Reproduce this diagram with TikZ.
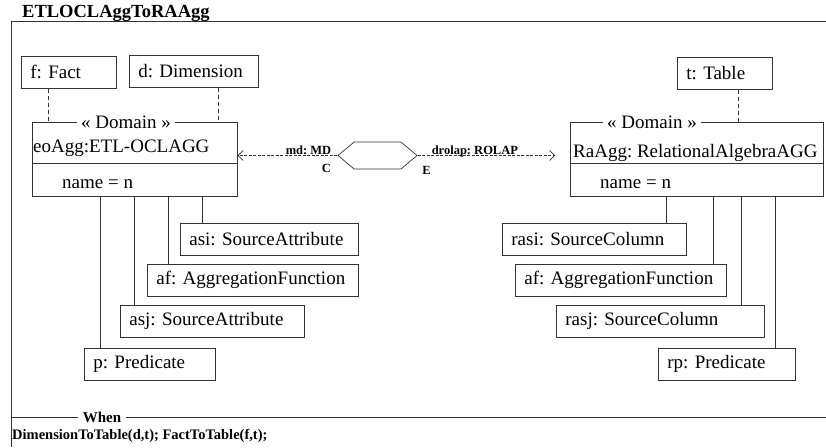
\documentclass[tikz,border=0pt]{standalone}
\usepackage{fontspec}
\setmainfont{Liberation Serif}
\usetikzlibrary{arrows.meta,shapes.symbols}
\frenchspacing

\begin{document}
\begin{tikzpicture}[x=1pt, y=-1pt,
  every node/.style={font=\fontsize{19}{21}\selectfont},
  obj/.style={draw=black!80, line width=0.7pt, anchor=north west,
    inner xsep=9pt, inner ysep=0pt, minimum height=32pt, align=left},
  dombox/.style={draw=black!80, line width=0.7pt, anchor=north west,
    inner sep=0pt, minimum height=74pt},
  stereo/.style={fill=white, inner xsep=4pt, inner ysep=1pt},
  link/.style={draw=black!80, line width=0.7pt},
  trace/.style={draw=black!80, line width=0.7pt, dash pattern=on 4pt off 3pt},
  dep/.style={draw=black!80, line width=0.6pt, dash pattern=on 3pt off 1.5pt,
    -{Straight Barb[length=5pt,width=10pt]}},
  tag/.style={font=\bfseries\fontsize{12.5}{14}\selectfont, inner sep=1pt},
  hdr/.style={font=\bfseries\fontsize{18.5}{20}\selectfont, inner sep=0pt}]
  \useasboundingbox (0,0) rectangle (826,447);

  % frame of the relation
  \node[hdr, anchor=base west] (title) at (22,17) {ETLOCLAggToRAAgg};
  \draw[link] (11,447) |- (826,21);
  \draw[link] (11,417) -- (826,417);
  \node[hdr, font=\bfseries\fontsize{15}{17}\selectfont, fill=white,
    inner xsep=5pt] (when) at (102,417) {When};
  \node[hdr, font=\bfseries\fontsize{14.5}{16}\selectfont, anchor=base west]
    (cond) at (12,439) {DimensionToTable(d,t); FactToTable(f,t);};

  % left domain
  \node[obj, text width=77pt] (f) at (21,56) {f: Fact};
  \node[obj, text width=111pt] (d) at (129,55) {d: Dimension};
  \node[dombox, minimum width=205pt] (eo) at (32,122) {};
  \draw[link] (eo.west |- 0,163) -- (eo.east |- 0,163);
  \node[stereo] (eost) at (eo.north -| 126,0) {« Domain »};
  \node[anchor=base west, inner sep=0pt] (eoname) at (33,152) {eoAgg:ETL-OCLAGG};
  \node[anchor=base west, inner sep=0pt] (eoattr) at (62,188) {name = n};
  \draw[trace] (f.south -| 48,0) -- (eo.north -| 48,0);
  \draw[trace] (d.south -| 218,0) -- (eo.north -| 218,0);

  \node[obj, text width=160pt] (asi) at (180,223) {asi: SourceAttribute};
  \node[obj, text width=193pt] (afl) at (147,264) {af: AggregationFunction};
  \node[obj, text width=166pt] (asj) at (120,305) {asj: SourceAttribute};
  \node[obj, text width=113pt] (p) at (84,348) {p: Predicate};
  \foreach \x/\b in {202/asi, 168/afl, 134/asj, 100/p}
    \draw[link] (eo.south -| \x,0) -- (\b.north -| \x,0);

  % right domain
  \node[obj, text width=77pt] (t) at (677,57) {t: Table};
  \node[dombox, minimum width=253pt] (ra) at (570,122) {};
  \draw[link] (ra.west |- 0,163) -- (ra.east |- 0,163);
  \node[stereo] (rast) at (ra.north -| 652,0) {« Domain »};
  \node[anchor=base west, inner sep=0pt] (raname) at (573,157) {RaAgg: RelationalAlgebraAGG};
  \node[anchor=base west, inner sep=0pt] (raattr) at (600,188) {name = n};
  \draw[trace] (t.south -| 738,0) -- (ra.north -| 738,0);

  \node[obj, text width=166pt] (rasi) at (502,223) {rasi: SourceColumn};
  \node[obj, text width=193pt] (afr) at (515,264) {af: AggregationFunction};
  \node[obj, text width=190pt] (rasj) at (556,305) {rasj: SourceColumn};
  \node[obj, text width=119pt] (rp) at (658,348) {rp: Predicate};
  \foreach \x/\b in {666/rasi, 713/afr, 741/rasj, 775/rp}
    \draw[link] (ra.south -| \x,0) -- (\b.north -| \x,0);

  % relation
  \node[draw=black!80, line width=0.7pt, signal, signal to=east and west,
    signal pointer angle=80, minimum width=79pt, minimum height=27pt,
    inner sep=0pt] (rel) at (377.5,155.5) {};
  \draw[dep] (rel.west) -- (eo.east |- rel.west);
  \draw[dep, shorten >=15pt] (rel.east) -- (ra.west |- rel.east);
  \node[tag, anchor=base east] (md) at ([shift={(-5,-1)}]rel.west) {md: MD};
  \node[tag, anchor=base west] (drolap) at ([shift={(13,-1)}]rel.east) {drolap: ROLAP};
  \node[tag] (chk) at ([shift={(-11,13)}]rel.west) {C};
  \node[tag] (enf) at ([shift={(9,15)}]rel.east) {E};
\end{tikzpicture}
\end{document}
